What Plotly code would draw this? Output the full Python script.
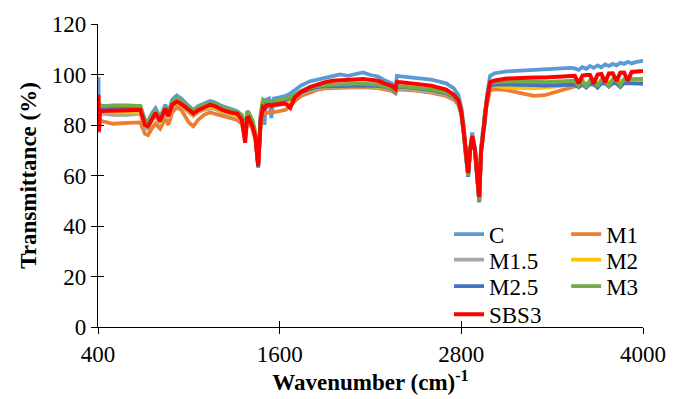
import plotly.graph_objects as go

# Wavenumber grid (cm^-1)
wavenumber = [400, 403, 407, 412, 430, 500, 600, 680, 710, 730, 760, 780, 810, 845, 865, 890, 920, 950,
              1000, 1030, 1060, 1100, 1140, 1170, 1220, 1270, 1320, 1350, 1372, 1385, 1395, 1420, 1440,
              1458, 1475, 1490, 1500, 1510, 1530, 1545, 1560, 1600, 1640, 1670, 1700, 1740, 1800, 1850,
              1900, 1950, 2000, 2050, 2100, 2150, 2200, 2250, 2300, 2340, 2365, 2375, 2400, 2500, 2600,
              2700, 2750, 2780, 2800, 2815, 2830, 2845, 2858, 2872, 2890, 2905, 2918, 2930, 2940, 2955,
              2970, 2990, 3020, 3100, 3200, 3280, 3350, 3450, 3520, 3550, 3575, 3600, 3625, 3650, 3675,
              3700, 3725, 3750, 3775, 3800, 3825, 3850, 3875, 3900, 3925, 3950, 3975, 4000]

t_C = [90, 99, 77, 88, 87.5, 87.5, 87.5, 87.5, 82, 81.5, 85, 86.7, 83, 88, 85, 90, 91.7, 90.5,
       87.5, 86, 87.5, 88.5, 89.5, 89, 87.5, 86.5, 85.5, 84, 76, 84, 84.5, 81, 76,
       63, 83, 90, 80, 90, 90.5, 82.8, 90.5, 91, 91.5, 92.5, 94, 95.6, 97.3, 98,
       98.8, 99.3, 100, 99.5, 100.2, 100.8, 99.8, 99.2, 97.5, 96.5, 94.5, 99.5, 99.3, 98.8, 98,
       96.5, 94.5, 92, 87, 80, 68, 60.5, 70, 77, 71, 58, 50, 70, 77, 80,
       92, 99.5, 100.5, 101.2, 101.5, 102, 102.2, 102.5, 102.6, 102.4, 101.8, 103, 102.2, 103.4, 102.6,
       103.6, 102.8, 104, 103.4, 104.2, 103.6, 104.6, 104.2, 105, 104.4, 104.9, 105.2, 105.4]

t_M1 = [81, 83, 79, 82, 81.5, 80.5, 80.8, 81, 76.5, 76, 79, 80.5, 78.5, 82.5, 80, 85, 87, 86,
        81, 79.5, 82, 84, 85, 84.5, 83.5, 82.8, 82, 80.5, 75, 81, 81.5, 78.5, 74,
        64, 81, 85.5, 85, 84.5, 85, 85.3, 85, 85.5, 86, 87.5, 89.5, 91.5, 93, 94,
        94.5, 94.6, 94.8, 94.8, 95, 95, 94.8, 94.6, 94, 93.5, 92.5, 94, 94, 93.6, 92.8,
        91.5, 90, 88, 84, 77, 67, 60.5, 70, 75, 70, 58, 50, 70, 74, 84,
        89, 93.7, 94.2, 93.8, 92.5, 91.5, 91.8, 93.5, 95, 95.5, 96, 96.2, 96.3, 96.5, 96.4,
        96.6, 96.7, 96.8, 96.8, 97, 97, 97.1, 97.2, 97.3, 97.4, 97.5, 97.6, 97.7]

t_M15 = [84, 85, 80, 85, 84.5, 84, 84, 84.5, 79, 78.5, 82, 83.5, 80.5, 85, 82.5, 87, 88.5, 87.5,
         85, 83.5, 85, 86, 86.5, 86.5, 85, 84, 83, 82, 76, 82, 82.5, 79.5, 75,
         64, 82, 87, 87, 87, 87.5, 87.5, 87.5, 88, 88.5, 89, 90.5, 92.5, 93.8, 94.5,
         95, 95, 95.2, 95.2, 95.3, 95.3, 95.2, 95, 94.5, 93.8, 92.8, 94.5, 94.5, 94, 93.2,
         92, 90.5, 88.5, 84.5, 77, 67, 60, 70, 75, 70, 58, 50, 70, 74, 84,
         90, 95, 95.8, 96, 96, 96, 96, 96.2, 96.3, 96.2, 96.3, 96.5, 96.4, 96.8, 96.5,
         96.8, 96.9, 97, 97, 97.2, 97.2, 97.3, 97.4, 97.5, 97.6, 97.7, 97.8, 98]

t_M2 = [85, 86, 80, 86, 85.5, 85, 85, 85, 80, 79.5, 83, 84, 81.5, 86, 83, 88, 89, 88,
        85.5, 84, 85.5, 86.5, 87, 87, 85.5, 84.5, 83.5, 82.5, 76, 82.5, 83, 80, 75,
        64, 83, 88, 88, 88, 88, 88, 88, 88.5, 89, 89.5, 91, 93, 94, 94.8,
        95.2, 95.3, 95.5, 95.5, 95.6, 95.6, 95.5, 95.3, 94.8, 94, 93, 94.8, 94.8, 94.4, 93.6,
        92.3, 90.8, 88.8, 84.5, 77, 67, 60, 70, 75, 70, 58, 50, 70, 74, 84,
        90.5, 95.5, 95.5, 94.8, 94.5, 94.5, 94.8, 95.3, 95.8, 96, 96.2, 96.5, 96.4, 96.7, 96.5,
        96.8, 96.9, 97, 97, 97.2, 97.2, 97.3, 97.4, 97.5, 97.6, 97.7, 97.8, 98]

t_M25 = [86, 87, 79, 87, 86.5, 86.5, 86.5, 86.5, 81, 80.5, 83.5, 85, 82, 86.5, 84, 88.5, 90, 89,
         86.5, 85, 86.5, 87.5, 88, 88, 86.5, 85.5, 84.5, 83, 77, 83.5, 83.5, 80.5, 75.5,
         63.5, 84, 88.5, 88.5, 88.5, 89, 89, 89, 89.5, 90, 90.5, 91.5, 93, 94.2, 95,
         95.3, 95.4, 95.5, 95.6, 95.7, 95.7, 95.6, 95.4, 95, 94.2, 93, 95, 95, 94.5, 93.8,
         92.5, 91, 89, 84.5, 77, 67, 59.5, 70, 75, 70, 57.5, 49.4, 70, 74, 84,
         90.5, 95.5, 96, 96, 96, 95.8, 95.6, 95.8, 96, 96, 95, 96, 94.8, 96.2, 96,
         94.8, 96.4, 96.5, 95.2, 96.5, 96.5, 95, 96.6, 96.6, 96.7, 96.5, 96.4, 96.3]

t_M3 = [87, 88, 82, 88, 87.5, 87.8, 87.8, 87.5, 81.5, 81, 84, 85.5, 82.5, 87, 84.5, 89, 90.5, 89.5,
        87, 85.5, 87, 88, 88.5, 88.5, 87, 86, 85, 84, 78, 85.5, 85, 82, 77,
        64, 85, 90, 89.5, 89.5, 89.5, 89.5, 89.5, 90, 90.5, 91, 92, 93.5, 94.8, 95.5,
        95.8, 96, 96.3, 96.3, 96.4, 96.4, 96.2, 96, 95.2, 94.5, 93.3, 95.3, 95.3, 94.8, 94.2,
        92.9, 91.3, 89.2, 85, 77.5, 67.5, 60, 70.5, 75.5, 70, 58, 50, 71, 74.5, 84.5,
        91, 96.5, 97, 97.2, 97.3, 97.3, 97, 97.2, 97.5, 97.6, 95.5, 97.6, 95, 97.8, 97.8,
        95.2, 98, 98, 95.5, 98.1, 98, 95.6, 98.2, 98.2, 98.3, 98.3, 98.3, 98.3]

t_SBS3 = [86, 92, 77.5, 86, 85.5, 85.5, 85.8, 86, 80, 79.5, 83, 84.8, 81.5, 86.5, 83.5, 88, 89.3, 88.3,
          86, 84.5, 85.8, 87, 88, 87.5, 86, 85, 84.5, 82, 73, 82.8, 83, 79.5, 75,
          63.8, 82, 87, 86.5, 87.5, 88, 87.5, 88, 88.3, 88.5, 86.8, 91, 93, 95, 96,
          97, 97.5, 97.8, 97.8, 98, 98.2, 97.8, 97.5, 96.3, 95.5, 94.3, 97, 96.9, 96.3, 95.6,
          94, 92, 89.8, 85.3, 78, 67.5, 61, 70, 75.6, 70, 58.5, 51.5, 69, 74, 84,
          90.5, 96.9, 97.6, 98.4, 98.8, 98.8, 98.8, 99.3, 99.3, 99.5, 96.5, 99.6, 99.8, 99.8, 96.5,
          100, 100.2, 97, 100.4, 100.5, 97.5, 100.7, 100.8, 97.5, 101, 101.2, 101.3, 101.4]

series_names = ["C", "M1", "M1.5", "M2", "M2.5", "M3", "SBS3"]
series_values = [t_C, t_M1, t_M15, t_M2, t_M25, t_M3, t_SBS3]
series_colors = ["#5B9BD5", "#ED7D31", "#A5A5A5", "#FFC000", "#4472C4", "#70AD47", "#FF0000"]
series_widths = [3.75, 3.75, 3.75, 3.75, 3.75, 3.75, 4]

# one single-entry legend per series, laid out as a 2-column grid
legend_ids = ["legend", "legend2", "legend3", "legend4", "legend5", "legend6", "legend7"]
legend_col_x = [0.644, 0.859]
legend_row_y = [0.306, 0.222, 0.135, 0.042]

FONT = "Liberation Serif, Times New Roman, serif"

fig = go.Figure()
for name, vals, col, w, lg in zip(series_names, series_values, series_colors, series_widths, legend_ids):
    fig.add_trace(go.Scatter(x=wavenumber, y=vals, mode="lines", name=name,
                             line=dict(color=col, width=w), legend=lg))

# empty trace to host the inner half of the cross tick marks
fig.add_trace(go.Scatter(x=[], y=[], xaxis="x2", yaxis="y2", showlegend=False, hoverinfo="skip"))

axis_common = dict(showgrid=False, zeroline=False, linecolor="black", linewidth=1.2,
                   tickcolor="black", tickwidth=1.2, ticklen=6,
                   tickfont=dict(family=FONT, size=23, color="black"))

legend_layout = {}
for i, lg in enumerate(legend_ids):
    legend_layout[lg] = dict(x=legend_col_x[i % 2], y=legend_row_y[i // 2],
                             xanchor="left", yanchor="middle", bgcolor="rgba(0,0,0,0)",
                             font=dict(family=FONT, size=23, color="black"), itemwidth=30)

fig.update_layout(
    width=681, height=399,
    margin=dict(l=98, r=38, t=17, b=72),
    paper_bgcolor="white", plot_bgcolor="white",
    font=dict(family=FONT, size=23, color="black"),
    xaxis=dict(range=[400, 4000], tick0=400, dtick=1200, ticks="outside", showline=True,
               title=dict(text="<b>Wavenumber (cm)<sup>-1</sup></b>", standoff=4,
                          font=dict(family=FONT, size=23, color="black")),
               **axis_common),
    yaxis=dict(range=[0, 120], tick0=0, dtick=20, ticks="outside", showline=True,
               title=dict(text="<b>Transmittance (%)</b>", standoff=8,
                          font=dict(family=FONT, size=23, color="black")),
               **axis_common),
    xaxis2=dict(range=[400, 4000], tick0=400, dtick=1200, ticks="inside", overlaying="x",
                anchor="y2", side="bottom", showline=False, showticklabels=False, **axis_common),
    yaxis2=dict(range=[0, 120], tick0=0, dtick=20, ticks="inside", overlaying="y",
                anchor="x2", side="left", showline=False, showticklabels=False, **axis_common),
    showlegend=True,
    **legend_layout,
)

fig.write_html("out.html")
